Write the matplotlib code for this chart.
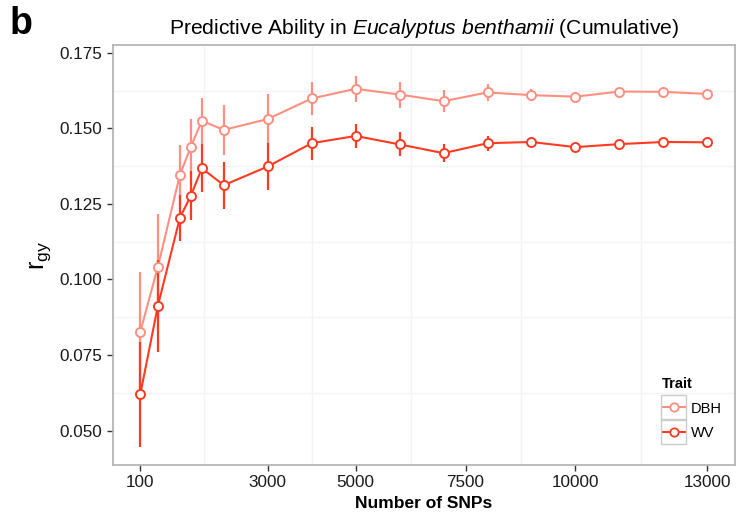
import matplotlib
matplotlib.use("Agg")
import matplotlib.pyplot as plt
from matplotlib.lines import Line2D
from matplotlib.patches import Rectangle

plt.rcParams['font.family'] = ['Liberation Sans', 'DejaVu Sans']
plt.rcParams['mathtext.fontset'] = 'custom'
plt.rcParams['mathtext.rm'] = 'Liberation Sans'
plt.rcParams['mathtext.it'] = 'Liberation Sans:italic'
plt.rcParams['mathtext.bf'] = 'Liberation Sans:bold'

snps = [100, 500, 1000, 1250, 1500, 2000, 3000, 4000, 5000, 6000, 7000,
        8000, 9000, 10000, 11000, 12000, 13000]
dbh = [0.0827, 0.1042, 0.1346, 0.1439, 0.1525, 0.1495, 0.1531, 0.1599, 0.1631,
       0.1612, 0.1590, 0.1619, 0.1610, 0.1605, 0.1622, 0.1621, 0.1614]
dbh_err = [0.0199, 0.0174, 0.0100, 0.0093, 0.0075, 0.0083, 0.0083, 0.0056, 0.0043,
           0.0043, 0.0036, 0.0028, 0.0019, 0.0017, 0.0010, 0.0007, 0.0005]
wv = [0.0620, 0.0913, 0.1204, 0.1277, 0.1368, 0.1312, 0.1374, 0.1451, 0.1475,
      0.1447, 0.1418, 0.1451, 0.1455, 0.1438, 0.1448, 0.1455, 0.1454]
wv_err = [0.0173, 0.0153, 0.0077, 0.0081, 0.0079, 0.0078, 0.0078, 0.0055, 0.0040,
          0.0040, 0.0030, 0.0025, 0.0015, 0.0014, 0.0013, 0.0007, 0.0005]
traits = ["DBH", "WV"]
colors = {"DBH": "#FF8F80", "WV": "#FF3A22"}
xticks = [100, 3000, 5000, 7500, 10000, 13000]
yticks = [0.050, 0.075, 0.100, 0.125, 0.150, 0.175]
xminor = [1550, 4000, 6250, 8750, 11500]
yminor = [0.0625, 0.0875, 0.1125, 0.1375, 0.1625]

W, H = 737, 519
fig = plt.figure(figsize=(W / 100, H / 100), dpi=100)
ax = fig.add_axes([112.7 / W, 1 - 465 / H, (735 - 112.7) / W, (465 - 45) / H])

ax.set_xlim(-528, 13630)
ax.set_ylim(0.0386, 0.1776)

for xv in xminor:
    ax.axvline(xv, color="#F4F4F4", lw=1.0, zorder=0)
for yv in yminor:
    ax.axhline(yv, color="#F4F4F4", lw=1.0, zorder=0)

series = {"DBH": (dbh, dbh_err), "WV": (wv, wv_err)}
for i, t in enumerate(traits):
    vals, errs = series[t]
    c = colors[t]
    ax.errorbar(snps, vals, yerr=errs, fmt="none", ecolor=c, elinewidth=1.6,
                capsize=0, zorder=2 + i)
    ax.plot(snps, vals, color=c, lw=1.5, zorder=2 + i)
    ax.plot(snps, vals, linestyle="none", marker="o", ms=6.5, mfc="white",
            mec=c, mew=1.4, zorder=4 + i)

ax.set_xticks(xticks)
ax.set_xticklabels([str(v) for v in xticks])
ax.set_yticks(yticks)
ax.set_yticklabels(["%.3f" % v for v in yticks])
ax.tick_params(axis="both", length=4.5, width=1.0, color="#333333",
               labelsize=12.3, labelcolor="#1a1a1a", pad=3)

for s in ax.spines.values():
    s.set_color("#B0B0B0")
    s.set_linewidth(1.2)

ax.set_xlabel("Number of SNPs", fontsize=12.5, fontweight="bold", labelpad=4)
ax.set_ylabel(r"$\mathregular{r_{gy}}$", fontsize=18, labelpad=5)

fig.text(424 / W, 1 - 28 / H,
         r"Predictive Ability in $\mathit{Eucalyptus\ benthamii}$ (Cumulative)",
         ha="center", va="center", fontsize=15.2)
fig.text(10 / W, 1 - 24 / H, "b", ha="left", va="center", fontsize=27,
         fontweight="bold")

handles = [Line2D([0], [0], color=colors[t], lw=1.5, marker="o", ms=6,
                  mfc="white", mec=colors[t], mew=1.3) for t in traits]
leg = ax.legend(handles, traits, title="Trait", loc="lower left",
                bbox_to_anchor=(652 / W, 1 - 450 / H), bbox_transform=fig.transFigure,
                frameon=False, fontsize=10.5, handlelength=1.6, handletextpad=0.35,
                labelspacing=0.7, borderpad=0.2)
leg.get_title().set_fontweight("bold")
leg.get_title().set_fontsize(10.5)
leg._legend_box.align = "left"

fig.canvas.draw()
for h in leg.legend_handles:
    bb = h.get_window_extent(fig.canvas.get_renderer())
    cx = (bb.x0 + bb.x1) / 2
    cy = (bb.y0 + bb.y1) / 2
    size = 25
    fig.patches.append(Rectangle((cx - size / 2, cy - size / 2), size, size,
                                 transform=None, fill=False,
                                 edgecolor="#CCCCCC", lw=1.0))

fig.savefig("out.png", dpi=100)
